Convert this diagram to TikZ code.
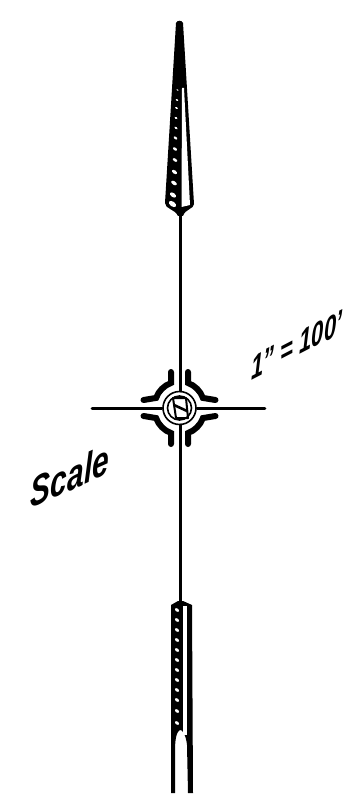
\documentclass[tikz,border=0pt]{standalone}
\usepackage{fontspec}
\setmainfont{Liberation Sans}
\tikzset{
  legend/.style={inner sep=0pt,transform shape},
  stroke/.style={line width=2.6pt,line cap=round},
  band/.style={line width=6pt,line cap=round}
}
\begin{document}
\begin{tikzpicture}[x=1pt,y=-1pt]
  \useasboundingbox (0,0) rectangle (354,799);
  % head
  \fill (176,23) .. controls (177,20) and (182,20) .. (183,23) -- (194,204) .. controls (194,209) and (185,209) .. (183,216) -- (178,216) .. controls (175,209) and (165,209) .. (165,203) -- cycle;
  \fill[white] (182,88) -- (184,88) -- (190,205) -- (181.5,207) -- cycle;
  \foreach \x/\y/\r in {177.5/90/1,177/100/1.2,176.5/108/1.3,176/118/1.4,176/128/1.5,175.5/138/1.6,175/149/1.8,175/160/1.9,174.5/172/2.2,174/183/2.4,173/195/2.7,172.5/204/3.2} {
    \fill[white,rotate around={-35:(\x,\y)}] (\x,\y) ellipse ({\r*1.3} and {\r*0.75});
  }
  % centre
  \coordinate (hub) at (179.5,408);
  \draw[stroke] (180.5,212) -- (180.5,391);
  \draw[stroke] (180.5,425) -- (180.5,604);
  \draw[stroke] (92,408.5) -- (162,408.5);
  \draw[stroke] (197,408.5) -- (265,408.5);
  \draw[line width=1.6pt] (hub) circle (16.5);
  \draw[line width=1.6pt] (hub) circle (12);
  \foreach \sx/\sy in {1/1,1/-1,-1/1,-1/-1} {
    \begin{scope}[shift={(hub)},xscale=\sx,yscale=\sy]
      \draw[band] (8.5,36) -- (8.5,25) arc[start angle=70,end angle=20,radius=25] -- (36,8);
    \end{scope}
  }
  \draw[line width=2pt,line join=round] (173,398) -- (186,398) -- (188,418) -- (176,418) -- cycle;
  \draw[line width=2.6pt] (174,405) -- (187,411);
  % tail
  \fill (171,605) -- (178,601) -- (183,601) -- (192,605) -- (193,793) -- (188,793) -- (187,745) .. controls (186,735) and (182,729) .. (180,730) .. controls (177,731) and (175,738) .. (175,750) -- (175,793) -- (171,793) -- cycle;
  \fill[white] (183,606) rectangle (187,735);
  \foreach \y in {610,620,630,640,650,660,670,680,690,700,711,723} {
    \fill[white,rotate around={-35:(177,\y)}] (177,\y) ellipse (2.4 and 1.5);
  }
  % labels
  \node[legend,yslant=0.52,yscale=1.5,font=\itshape\bfseries\fontsize{22}{22}\selectfont] (ratio) at (297,345) {1" = 100'};
  \node[legend,yslant=0.45,yscale=1.4,font=\itshape\bfseries\fontsize{30}{30}\selectfont] (scale) at (70,476) {Scale};
\end{tikzpicture}
\end{document}
